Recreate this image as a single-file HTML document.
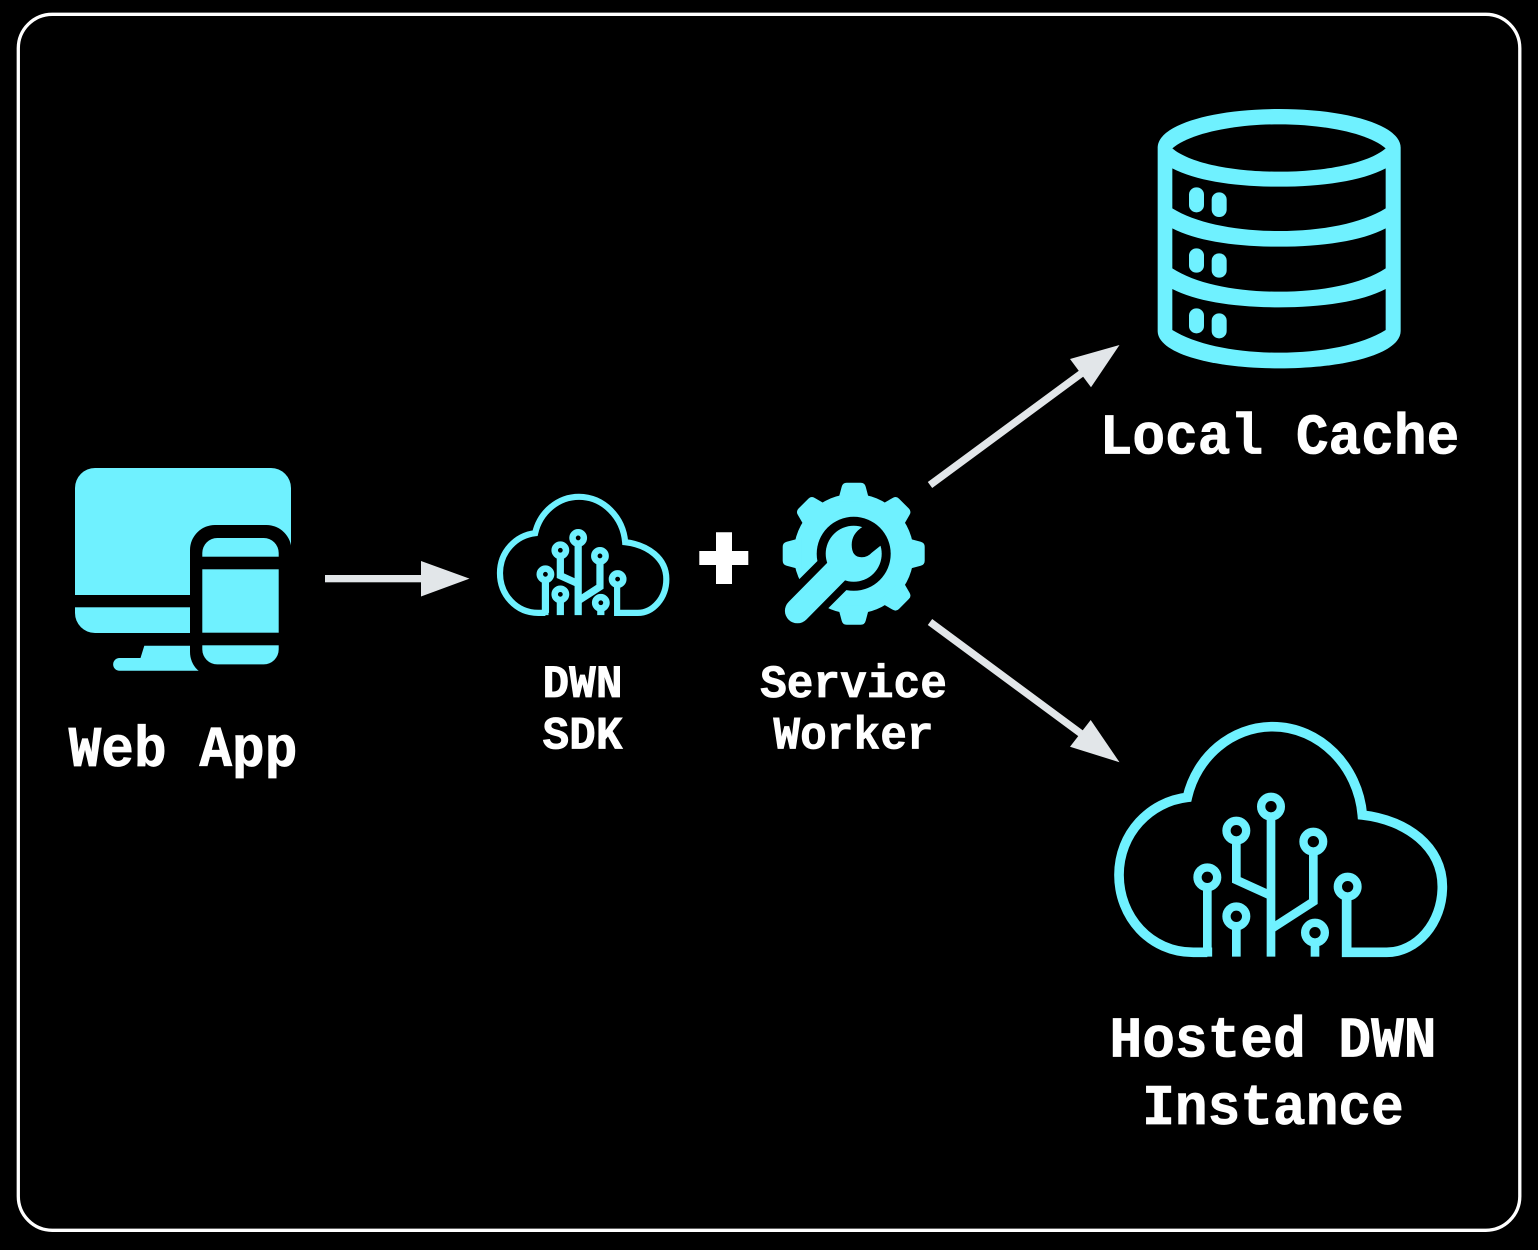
<!DOCTYPE html>
<html lang="en">
<head>
<meta charset="utf-8">
<title>DWN Diagram</title>
<style>
html,body{margin:0;padding:0;background:#000;width:1538px;height:1250px;overflow:hidden}
svg{display:block}
text{font-family:"Liberation Mono","DejaVu Sans Mono",monospace;font-weight:700;fill:#fff;text-anchor:middle;stroke:#fff;stroke-width:.7px}
.lg{font-size:54.5px}
.sm{font-size:44.5px}
</style>
</head>
<body>
<svg width="1538" height="1250" viewBox="0 0 1538 1250" xmlns="http://www.w3.org/2000/svg">
<rect width="1538" height="1250" fill="#000"/>
<rect x="18.3" y="14.3" width="1501.5" height="1216" rx="34" ry="34" fill="#000" stroke="#fff" stroke-width="3.3"/>

<defs>
<path id="tooth" fill="#6ff1ff" d="M-16-52L-12-67Q-11-71-7-71H7Q11-71 12-67L16-52Z"/>
</defs>

<!-- Monitor + phone -->
<g fill="#6ff1ff">
  <path d="M95 468H271A20 20 0 0 1 291 488V633H95A20 20 0 0 1 75 613V488A20 20 0 0 1 95 468Z"/>
  <path d="M144.3 645.7L140.5 658H119.5A6.35 6.35 0 0 0 119.5 670.7H210V645.7Z"/>
</g>
<rect x="70" y="595" width="130" height="12.3" fill="#000"/>
<rect x="190" y="525" width="101.4" height="152" rx="25" fill="#000"/>
<rect x="291.4" y="520" width="8" height="160" fill="#000"/>
<rect x="202.3" y="538" width="76.4" height="126.4" rx="15" fill="#6ff1ff"/>
<rect x="200" y="556.7" width="82" height="12.6" fill="#000"/>
<rect x="200" y="632.7" width="82" height="12.6" fill="#000"/>

<!-- Arrows -->
<g fill="#e2e6e9">
  <rect x="325" y="575" width="98" height="7.3"/>
  <polygon points="421,561 469.5,578.6 421,596.5"/>
  <polygon points="927.8,482 1079.5,370.2 1083.8,376.2 932.2,488"/>
  <polygon points="1119.5,345 1070,359 1091,387.3"/>
  <polygon points="932.2,619 1085,732 1080.8,738 927.8,625"/>
  <polygon points="1119.5,762.3 1090.7,720 1070,746.7"/>
</g>

<!-- Large cloud -->
<g transform="translate(1100 710) scale(.33333)" fill="none" stroke="#6ff1ff">
  <path stroke-width="29" d="M322 740V727H280C150 727 57 620 57 495C57 370 150 275 262 262C290 140 395 50 518 50C660 50 775 170 787 315C920 330 1027 410 1027 530C1027 640 950 727 860 727H740V560"/>
  <g stroke-width="26">
    <path d="M322 530V727"/>
    <path d="M409 390V510L513 557"/>
    <path d="M513 315V740"/>
    <path d="M640 420V575L513 657"/>
    <path d="M409 640V740"/>
    <path d="M645 690V740"/>
  </g>
  <g stroke-width="25">
    <circle cx="322" cy="502" r="29.5"/>
    <circle cx="409" cy="362" r="29.5"/>
    <circle cx="513" cy="290" r="29.5"/>
    <circle cx="640" cy="395" r="29.5"/>
    <circle cx="743" cy="530" r="29.5"/>
    <circle cx="409" cy="619" r="29.5"/>
    <circle cx="645" cy="668" r="29.5"/>
  </g>
</g>

<!-- Small cloud -->
<g transform="translate(490.2 488.2) scale(.1715 .1715)" fill="none" stroke="#6ff1ff">
  <path stroke-width="36" d="M322 740V727H280C150 727 57 620 57 495C57 370 150 275 262 262C290 140 395 50 518 50C660 50 775 170 787 315C920 330 1027 410 1027 530C1027 640 950 727 860 727H740V560"/>
  <g stroke-width="42">
    <path d="M322 530V727"/>
    <path d="M409 390V510L513 557"/>
    <path d="M513 315V740"/>
    <path d="M640 420V575L513 657"/>
    <path d="M409 640V740"/>
    <path d="M645 690V740"/>
  </g>
  <g stroke-width="38">
    <circle cx="322" cy="502" r="33"/>
    <circle cx="409" cy="362" r="33"/>
    <circle cx="513" cy="290" r="33"/>
    <circle cx="640" cy="395" r="33"/>
    <circle cx="743" cy="530" r="33"/>
    <circle cx="409" cy="619" r="33"/>
    <circle cx="645" cy="668" r="33"/>
  </g>
</g>

<!-- Plus -->
<path fill="#fff" d="M716 532.3H732V551H748.3V565H732V584H716V565H699.3V551H716Z"/>

<!-- Gear with wrench -->
<g transform="translate(853.7 553.8)">
  <circle r="60" fill="#6ff1ff"/>
  <use href="#tooth"/>
  <use href="#tooth" transform="rotate(45)"/>
  <use href="#tooth" transform="rotate(90)"/>
  <use href="#tooth" transform="rotate(135)"/>
  <use href="#tooth" transform="rotate(180)"/>
  <use href="#tooth" transform="rotate(225)"/>
  <use href="#tooth" transform="rotate(270)"/>
  <use href="#tooth" transform="rotate(315)"/>
  <circle r="37" fill="#000"/>
  <path d="M0 0L-85 85" stroke="#000" stroke-width="41" fill="none"/>
  <circle r="28" fill="#6ff1ff"/>
  <path d="M0 0L-56.3 57" stroke="#6ff1ff" stroke-width="25" stroke-linecap="round" fill="none"/>
  <path fill="#000" d="M12-30L9-27Q-2-20-2-9Q-2 3.5 8 3.5Q14 3.5 18-1L28-9L31-12Z"/>
</g>

<!-- Database -->
<g transform="translate(1140 95) scale(.33333)">
  <path fill="#6ff1ff" d="M53 158C53 90 215 42 417 42C620 42 782 90 782 158V708C782 775 620 820 417 820C215 820 53 775 53 708Z"/>
  <g fill="#000">
    <path d="M97 160C150 115 280 88 417 88C555 88 685 115 737 160C685 205 555 230 417 230C280 230 150 205 97 160Z"/>
    <path d="M97 220C170 258 290 275 417 275C545 275 665 258 737 220V340C665 385 545 408 417 408C290 408 170 385 97 340Z"/>
    <path d="M97 400C170 438 290 455 417 455C545 455 665 438 737 400V520C665 567 545 590 417 590C290 590 170 567 97 520Z"/>
    <path d="M97 582C170 620 290 637 417 637C545 637 665 620 737 582V705C665 750 545 773 417 773C290 773 170 750 97 705Z"/>
  </g>
  <g fill="#6ff1ff">
    <rect x="147" y="277" width="45" height="75" rx="22"/>
    <rect x="215" y="292" width="45" height="74" rx="22"/>
    <rect x="147" y="460" width="45" height="73" rx="22"/>
    <rect x="215" y="475" width="45" height="73" rx="22"/>
    <rect x="147" y="640" width="45" height="75" rx="22"/>
    <rect x="215" y="655" width="45" height="75" rx="22"/>
  </g>
</g>

<!-- Labels -->
<text class="lg" transform="translate(183 766) scale(1 1.05)">Web App</text>
<text class="sm" transform="translate(582.5 697) scale(1 1.05)">DWN</text>
<text class="sm" transform="translate(582.5 748.6) scale(1 1.05)">SDK</text>
<text class="sm" transform="translate(853.5 697) scale(1 1.05)">Service</text>
<text class="sm" transform="translate(853.5 748.6) scale(1 1.05)">Worker</text>
<text class="lg" transform="translate(1279.5 453.5) scale(1 1.05)">Local Cache</text>
<text class="lg" transform="translate(1273 1056.7) scale(1 1.05)">Hosted DWN</text>
<text class="lg" transform="translate(1273 1124) scale(1 1.05)">Instance</text>
</svg>
</body>
</html>
